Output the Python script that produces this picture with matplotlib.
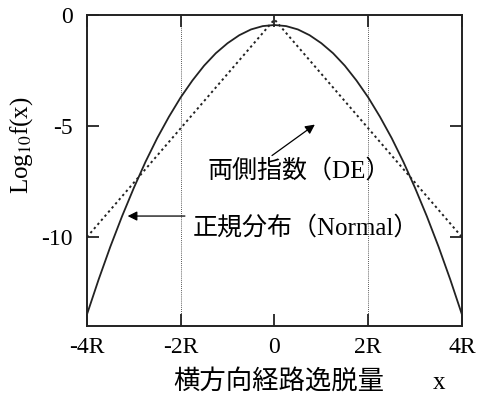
import matplotlib.pyplot as plt

plt.rcParams["font.family"] = ["Liberation Serif", "Noto Sans CJK JP"]
plt.rcParams["mathtext.fontset"] = "stix"

# log10 f(x) read along the x axis (units of R)
x_normal = [-4.0, -3.75, -3.5, -3.25, -3.0, -2.75, -2.5, -2.25, -2.0,
            -1.75, -1.5, -1.25, -1.0, -0.75, -0.5, -0.25, 0.0,
            0.25, 0.5, 0.75, 1.0, 1.25, 1.5, 1.75, 2.0,
            2.25, 2.5, 2.75, 3.0, 3.25, 3.5, 3.75, 4.0]
y_normal = [-13.49, -11.91, -10.43, -9.06, -7.79, -6.61, -5.54, -4.58, -3.71,
            -2.95, -2.28, -1.72, -1.27, -0.91, -0.65, -0.50, -0.45,
            -0.50, -0.65, -0.91, -1.27, -1.72, -2.28, -2.95, -3.71,
            -4.58, -5.54, -6.61, -7.79, -9.06, -10.43, -11.91, -13.49]

x_de = [-4.0, 0.0, 4.0]
y_de = [-10.0, -0.2, -10.0]

x_ticks = [-4, -2, 0, 2, 4]
x_labels = ["-4R", "-2R", "0", "2R", "4R"]
y_ticks = [0, -5, -10]
y_labels = ["0", "-5", "-10"]

INK = "#222222"
CJK = ["Noto Sans CJK JP"]
MIXED = ["Liberation Serif", "Noto Sans CJK JP"]

fig = plt.figure(figsize=(4.8, 4.01), dpi=100)
ax = fig.add_axes([0.181, 0.187, 0.7815, 0.7756])

for xv in (-2, 2):
    ax.axvline(xv, color=INK, lw=0.6, ls=(0, (1, 1.5)), zorder=1)

ax.plot(x_normal, y_normal, color=INK, lw=1.3, zorder=3)
ax.plot(x_de, y_de, color=INK, lw=1.4, ls=(0, (1.2, 1.6)), zorder=3)

ax.set_xlim(-4, 4)
ax.set_ylim(-14, 0)
ax.set_xticks(x_ticks)
ax.set_xticklabels(x_labels)
ax.set_yticks(y_ticks)
ax.set_yticklabels(y_labels)
ax.tick_params(direction="in", top=True, right=True, length=8.5, width=1.3,
               color=INK, labelsize=17, labelcolor="black")
ax.tick_params(axis="x", pad=8)
ax.tick_params(axis="y", pad=10)
for s in ax.spines.values():
    s.set_linewidth(1.4)
    s.set_color(INK)

fig.text(0.044, 0.638, "Log$_{10}$f(x)", fontsize=18, rotation=90,
         ha="center", va="center")

fig.text(0.580, 0.050, "横方向経路逸脱量", family=CJK, fontsize=19,
         ha="center", va="center")
fig.text(0.915, 0.045, "x", fontsize=18, ha="center", va="center")

ax.annotate("", xy=(0.91, -4.86), xytext=(-0.10, -6.4),
            arrowprops=dict(arrowstyle="-|>", color="black", lw=0.9,
                            mutation_scale=14))
ax.text(-1.42, -7.03, "両側指数（DE）", family=MIXED, fontsize=18,
        ha="left", va="center")

ax.annotate("", xy=(-3.19, -9.05), xytext=(-1.85, -9.05),
            arrowprops=dict(arrowstyle="-|>", color="black", lw=0.9,
                            mutation_scale=14))
ax.text(-1.74, -9.59, "正規分布（Normal）", family=MIXED, fontsize=18,
        ha="left", va="center")

fig.savefig("out.png", dpi=100)
